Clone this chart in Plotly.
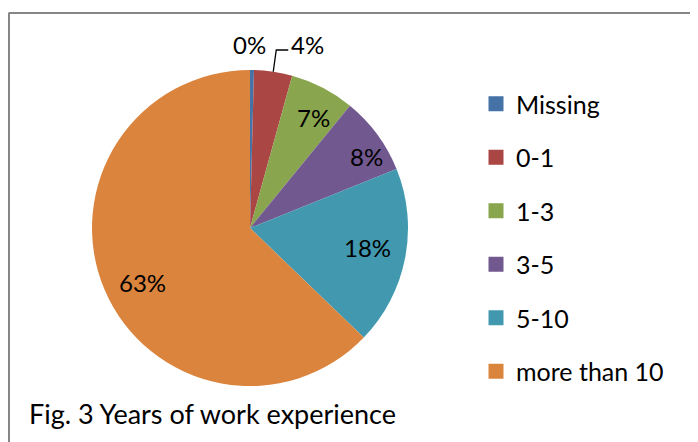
import math
import plotly.graph_objects as go

# ---- data ----
categories = ["Missing", "0-1", "1-3", "3-5", "5-10", "more than 10"]
values = [0.4, 3.9, 6.6, 8.0, 18.3, 62.8]
colors = ["#4572A7", "#AA4643", "#89A54E", "#71588F", "#4198AF", "#DB843D"]
title_text = "Fig. 3 Years of work experience"

# ---- layout constants (page pixel coordinates) ----
W, H = 698, 442
OFF = 8  # page body margin
CX, CY, R = 250, 228, 158
FONT = "Lato"
FS_LABEL = 24
FS_LEGEND = 25
FS_TITLE = 27
outside_idx = [0, 1]  # small slices labelled outside
label_radius = [None, None, 0.81, 0.864, 0.757, 0.764]  # radial placement of inside labels
label_shift_deg = [0, 0, 2.6, 4.6, -1.4, -3.6]  # angular nudge of inside labels


def px(x):
    return (x - OFF) / W


def py(y):
    return 1 - (y - OFF) / H


fig = go.Figure()

fig.add_trace(go.Pie(
    labels=categories,
    values=values,
    sort=False,
    direction="clockwise",
    rotation=0,
    marker=dict(colors=colors, line=dict(width=0)),
    textinfo="none",
    showlegend=False,
    hoverinfo="label+percent",
    domain=dict(x=[px(CX - R), px(CX + R)], y=[py(CY + R), py(CY - R)]),
))

# legend entries (one group per category for spacing control)
for cat, col in zip(categories, colors):
    fig.add_trace(go.Scatter(
        x=[None], y=[None], mode="markers", name=cat, legendgroup=cat,
        marker=dict(symbol="square", size=15, color=col, line=dict(width=0)),
        showlegend=True,
    ))

# percentage labels
total = sum(values)
cum = 0.0
annotations = []
shapes = []
lab_font = dict(family=FONT, size=FS_LABEL, color="#000000")
for i, v in enumerate(values):
    mid = (cum + v / 2) / total * 2 * math.pi
    cum += v
    txt = f"{round(v / total * 100)}%"
    if i in outside_idx:
        ex = CX + R * math.sin(mid)
        ey = CY - R * math.cos(mid)
        if i == 0:
            annotations.append(dict(x=px(ex - 2), y=py(CY - R - 26), xref="paper", yref="paper",
                                    text=txt, showarrow=False, xanchor="center", yanchor="middle",
                                    font=lab_font))
        else:
            elbow_y = CY - R - 20
            shapes.append(dict(type="path", xref="paper", yref="paper",
                               path=f"M {px(ex)},{py(ey)} L {px(ex + 3)},{py(elbow_y)} L {px(ex + 15)},{py(elbow_y)}",
                               line=dict(color="#000000", width=1.3)))
            annotations.append(dict(x=px(ex + 16), y=py(CY - R - 26), xref="paper", yref="paper",
                                    text=txt, showarrow=False, xanchor="left", yanchor="middle",
                                    font=lab_font))
    else:
        rr = R * label_radius[i]
        a = mid + math.radians(label_shift_deg[i])
        lx = CX + rr * math.sin(a)
        ly = CY - rr * math.cos(a)
        annotations.append(dict(x=px(lx), y=py(ly), xref="paper", yref="paper",
                                text=txt, showarrow=False, xanchor="center", yanchor="middle",
                                font=lab_font))

annotations.append(dict(x=px(27), y=py(413), xref="paper", yref="paper", text=title_text,
                        showarrow=False, xanchor="left", yanchor="middle",
                        font=dict(family=FONT, size=FS_TITLE, color="#000000")))

# frame lines (top and left)
shapes.append(dict(type="line", xref="paper", yref="paper", x0=px(8.5), x1=1, y0=py(13), y1=py(13),
                   line=dict(color="#868686", width=2)))
shapes.append(dict(type="line", xref="paper", yref="paper", x0=px(9), x1=px(9), y0=py(13), y1=0,
                   line=dict(color="#868686", width=2)))

fig.update_layout(
    width=W, height=H,
    margin=dict(l=0, r=0, t=0, b=0),
    paper_bgcolor="white", plot_bgcolor="white",
    xaxis=dict(visible=False, domain=[0.99, 1]),
    yaxis=dict(visible=False, domain=[0.99, 1]),
    showlegend=True,
    legend=dict(x=px(476), y=py(81), xanchor="left", yanchor="top",
                tracegroupgap=18, font=dict(family=FONT, size=FS_LEGEND, color="#000000"),
                bgcolor="rgba(0,0,0,0)", traceorder="grouped"),
    annotations=annotations,
    shapes=shapes,
)

fig.write_html("out.html")
